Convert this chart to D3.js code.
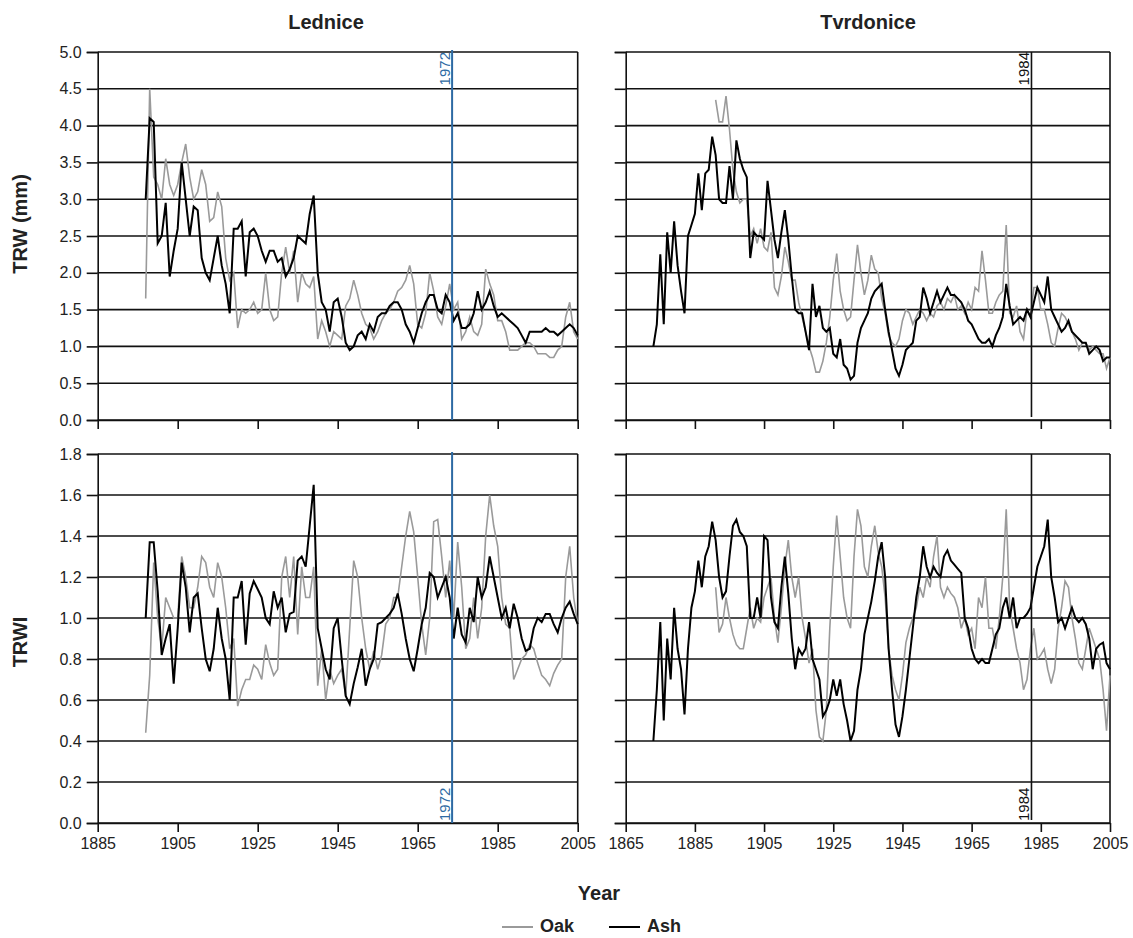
<!DOCTYPE html>
<html>
<head>
<meta charset="utf-8">
<script src="https://cdn.jsdelivr.net/npm/d3@7"></script>
<style>
  body { margin: 0; background: #fff; }
  svg text { font-family: "Liberation Sans", Arial, sans-serif; fill: #222; }
</style>
</head>
<body>
<svg id="chart" width="1133" height="938"></svg>
<script>
// ---- data (one value per year) ----
const sites = ['Lednice', 'Tvrdonice'];
const rowLabels = ['TRW (mm)', 'TRWI'];
const seriesNames = ['Oak', 'Ash'];

const ledStart = 1897;
const ledOakTRW = [
  1.65, 4.5, 3.3, 3.2, 3.0, 3.55, 3.2, 3.05, 3.2, 3.5,
  3.75, 3.3, 3.0, 3.1, 3.4, 3.2, 2.7, 2.75, 3.1, 2.9,
  2.2, 1.9, 2.0, 1.25, 1.5, 1.45, 1.5, 1.6, 1.45, 1.5,
  2.0, 1.5, 1.35, 1.4, 2.0, 2.35, 2.0, 2.3, 1.6, 2.0,
  1.85, 1.8, 1.95, 1.1, 1.35, 1.2, 1.0, 1.2, 1.15, 1.1,
  1.55, 1.65, 1.9, 1.7, 1.45, 1.3, 1.25, 1.1, 1.2, 1.35,
  1.45, 1.5, 1.6, 1.75, 1.8, 1.9, 2.1, 1.85, 1.3, 1.25,
  1.45, 2.0, 1.75, 1.4, 1.3, 1.55, 1.85, 1.5, 1.6, 1.1,
  1.2, 1.4, 1.2, 1.15, 1.3, 2.05, 1.85, 1.7, 1.35, 1.35,
  1.2, 0.95, 0.95, 0.95, 1.0, 1.05, 1.05, 1.0, 0.9, 0.9,
  0.9, 0.85, 0.85, 0.95, 1.0, 1.4, 1.6, 1.2, 1.1
];
const ledAshTRW = [
  3.0, 4.1, 4.05, 2.4, 2.5, 2.95, 1.95, 2.3, 2.6, 3.5,
  3.0, 2.5, 2.9, 2.85, 2.2, 2.0, 1.9, 2.2, 2.5, 2.1,
  1.85, 1.45, 2.6, 2.6, 2.7, 1.95, 2.55, 2.6, 2.5, 2.3,
  2.15, 2.3, 2.3, 2.15, 2.2, 1.95, 2.05, 2.2, 2.5, 2.45,
  2.4, 2.8, 3.05, 2.0, 1.6, 1.5, 1.2, 1.6, 1.65, 1.4,
  1.05, 0.95, 1.0, 1.15, 1.2, 1.1, 1.3, 1.2, 1.4, 1.45,
  1.45, 1.55, 1.6, 1.6, 1.5, 1.3, 1.2, 1.05, 1.25, 1.45,
  1.6, 1.7, 1.7, 1.5, 1.45, 1.7, 1.6, 1.35, 1.45, 1.25,
  1.25, 1.3, 1.45, 1.75, 1.5, 1.6, 1.75, 1.55, 1.4, 1.45,
  1.4, 1.35, 1.3, 1.25, 1.15, 1.05, 1.2, 1.2, 1.2, 1.2,
  1.25, 1.2, 1.2, 1.15, 1.2, 1.25, 1.3, 1.25, 1.15
];
const ledOakTRWI = [
  0.44, 0.72, 1.27, 1.0, 0.85, 1.1, 1.05, 1.0, 1.0, 1.3,
  1.2, 1.05, 1.05, 1.15, 1.3, 1.27, 1.15, 1.1, 1.27, 1.2,
  1.05, 0.85, 0.9, 0.57, 0.65, 0.7, 0.7, 0.77, 0.75, 0.7,
  0.87, 0.78, 0.72, 0.75, 1.2, 1.3, 1.1, 1.3, 0.92, 1.25,
  1.1, 1.1, 1.25, 0.67, 0.85, 0.6, 0.75, 0.68, 0.72, 0.75,
  0.62, 0.95, 1.28, 1.2, 1.0, 0.85, 0.75, 0.84, 0.75, 0.82,
  0.97, 1.0, 1.1, 1.1, 1.25, 1.4, 1.52, 1.42, 1.2, 0.97,
  0.82, 1.0, 1.47, 1.48, 1.3, 1.1, 1.28, 1.0, 1.37, 1.15,
  0.85, 0.9, 1.1, 0.9, 1.05, 1.4, 1.6, 1.45, 1.35, 1.1,
  0.97, 0.95, 0.7, 0.75, 0.8, 0.82, 0.87, 0.85, 0.78, 0.72,
  0.7, 0.67, 0.73, 0.77, 0.8, 1.2, 1.35, 1.1, 0.97
];
const ledAshTRWI = [
  1.0, 1.37, 1.37, 1.13, 0.82, 0.9, 0.97, 0.68, 0.95, 1.27,
  1.15, 0.93, 1.1, 1.12, 0.95, 0.8, 0.74, 0.85, 1.05, 0.9,
  0.8, 0.6, 1.1, 1.1, 1.18, 0.87, 1.12, 1.18, 1.14, 1.1,
  1.0, 0.97, 1.13, 1.05, 1.1, 0.93, 1.02, 1.03, 1.28, 1.3,
  1.25, 1.45, 1.65, 0.95, 0.85, 0.75, 0.7, 0.95, 1.0, 0.8,
  0.62, 0.58, 0.68, 0.76, 0.85, 0.67, 0.75, 0.8, 0.97, 0.98,
  1.0, 1.02, 1.05, 1.12, 1.02, 0.9, 0.8, 0.74, 0.85, 0.97,
  1.05, 1.22, 1.2, 1.1, 1.15, 1.2, 1.1, 0.9, 1.05, 0.92,
  0.88, 1.05, 0.98, 1.2, 1.1, 1.15, 1.3, 1.2, 1.1, 1.0,
  1.05, 0.95, 1.07, 1.0, 0.9, 0.84, 0.85, 0.95, 1.0, 0.98,
  1.02, 1.02, 0.97, 0.93, 1.0, 1.05, 1.08, 1.02, 0.97
];

const tvrOakStart = 1891;
const tvrAshStart = 1873;
const tvrOakTRW = [
  4.35, 4.05, 4.05, 4.4, 3.95, 3.4, 3.1, 2.95, 3.0, 3.0,
  2.5, 2.6, 2.4, 2.6, 2.35, 2.3, 2.55, 1.8, 1.7, 1.95,
  2.35, 2.15, 1.9, 1.9, 1.6, 1.4, 1.2, 1.0, 0.85, 0.65,
  0.65, 0.8, 1.05, 1.4, 1.9, 2.26, 1.75, 1.5, 1.35, 1.4,
  1.9, 2.38, 2.0, 1.7, 1.9, 2.24, 2.05, 2.0, 1.65, 1.45,
  1.15, 1.05, 1.0, 1.1, 1.35, 1.5, 1.45, 1.3, 1.4, 1.5,
  1.45, 1.35, 1.45, 1.4, 1.55, 1.6, 1.5, 1.65, 1.6, 1.7,
  1.5, 1.55, 1.45, 1.6, 1.5, 1.8, 1.75, 2.3, 1.9, 1.45,
  1.45, 1.6, 1.7, 1.75, 2.65, 1.45, 1.4, 1.55, 1.2, 1.1,
  1.5, 1.4, 1.8, 1.8, 1.5, 1.5, 1.3, 1.05, 1.0, 1.25,
  1.45, 1.4, 1.3, 1.2, 1.1, 0.95, 1.05, 1.05, 0.95, 1.0,
  0.95, 0.9, 0.9, 0.7, 0.85
];
const tvrAshTRW = [
  1.0, 1.3, 2.25, 1.3, 2.55, 2.0, 2.7, 2.1, 1.75, 1.45,
  2.5, 2.65, 2.8, 3.35, 2.85, 3.35, 3.4, 3.85, 3.6, 3.0,
  2.95, 2.95, 3.45, 3.0, 3.8, 3.55, 3.4, 3.3, 2.2, 2.55,
  2.5, 2.5, 2.45, 3.25, 2.85, 2.45, 2.2, 2.55, 2.85, 2.45,
  1.95, 1.5, 1.45, 1.45, 1.2, 0.95, 1.85, 1.4, 1.55, 1.25,
  1.2, 1.25, 0.9, 0.85, 1.1, 0.75, 0.7, 0.55, 0.6, 1.05,
  1.25, 1.35, 1.45, 1.65, 1.75, 1.8, 1.85, 1.5, 1.2, 0.95,
  0.7, 0.6, 0.75, 0.95, 1.0, 1.05, 1.35, 1.4, 1.8, 1.65,
  1.45, 1.6, 1.75, 1.6, 1.7, 1.8, 1.7, 1.7, 1.65, 1.6,
  1.5, 1.35, 1.3, 1.2, 1.1, 1.05, 1.05, 1.1, 1.0, 1.15,
  1.25, 1.4, 1.85, 1.55, 1.3, 1.35, 1.4, 1.35, 1.5, 1.4,
  1.6, 1.8, 1.7, 1.6, 1.95, 1.5, 1.4, 1.3, 1.2, 1.25,
  1.35, 1.2, 1.15, 1.1, 1.05, 1.05, 0.9, 0.95, 1.0, 0.95,
  0.8, 0.85, 0.85
];
const tvrOakTRWI = [
  1.15, 0.93, 0.97, 1.1, 1.0, 0.92, 0.87, 0.85, 0.85, 0.95,
  1.05, 0.95, 1.0, 0.98, 1.1, 1.15, 1.2, 1.0, 0.88, 1.05,
  1.25, 1.38, 1.2, 1.1, 1.2, 1.0, 0.9, 0.78, 0.85, 0.55,
  0.42, 0.4, 0.55, 0.95, 1.25, 1.5, 1.3, 1.1, 1.0, 0.95,
  1.3, 1.53, 1.45, 1.25, 1.2, 1.35, 1.45, 1.32, 1.25, 1.1,
  0.85, 0.72, 0.65, 0.6, 0.72, 0.88, 0.95, 1.0, 1.05, 1.15,
  1.1, 1.2, 1.15, 1.3, 1.4, 1.15, 1.1, 1.15, 1.12, 1.1,
  1.05, 0.95, 1.0, 0.92, 0.95, 0.85, 1.1, 1.05, 1.2, 0.95,
  0.95, 0.85, 1.0, 1.2, 1.53, 1.05, 0.95, 0.85, 0.78, 0.65,
  0.7, 0.85, 0.95, 0.8, 0.82, 0.85, 0.75, 0.68, 0.75, 0.95,
  1.05, 1.18, 1.15, 1.0, 0.9, 0.78, 0.75, 0.85, 0.95, 0.9,
  0.85, 0.8, 0.65, 0.45, 0.72
];
const tvrAshTRWI = [
  0.4, 0.65, 0.98, 0.5, 0.9, 0.7, 1.05, 0.85, 0.75, 0.53,
  0.85, 1.05, 1.13, 1.28, 1.15, 1.3, 1.35, 1.47, 1.38, 1.2,
  1.1, 1.13, 1.3, 1.45, 1.48, 1.42, 1.4, 1.35, 1.0, 1.0,
  1.1, 1.0, 1.4, 1.38, 1.1, 0.98, 0.95, 1.15, 1.3, 1.12,
  0.9, 0.75, 0.85, 0.82, 0.85, 0.98, 0.8, 0.75, 0.7, 0.52,
  0.55, 0.6, 0.7, 0.62, 0.7, 0.58, 0.5, 0.4, 0.45, 0.65,
  0.75, 0.92, 1.0, 1.08, 1.18, 1.3, 1.37, 1.2, 0.85, 0.65,
  0.48, 0.42, 0.52, 0.65, 0.8, 0.95, 1.1, 1.2, 1.35, 1.25,
  1.2, 1.25, 1.22, 1.2, 1.3, 1.33, 1.28, 1.26, 1.24, 1.22,
  1.0, 0.95, 0.85, 0.8, 0.78, 0.8, 0.78, 0.78, 0.85, 0.92,
  0.95, 1.05, 1.1, 1.0, 1.1, 0.95, 1.0, 1.0, 1.02, 1.05,
  1.15, 1.25, 1.3, 1.35, 1.48, 1.2, 1.1, 0.98, 1.0, 0.95,
  1.0, 1.05, 1.0, 0.98, 1.0, 0.97, 0.9, 0.75, 0.85, 0.87,
  0.88, 0.78, 0.75
];

// axis ticks
const xTicksLed = [1885, 1905, 1925, 1945, 1965, 1985, 2005];
const xTicksTvr = [1865, 1885, 1905, 1925, 1945, 1965, 1985, 2005];
const yTicksTRW = [0, 0.5, 1, 1.5, 2, 2.5, 3, 3.5, 4, 4.5, 5];
const yTicksTRWI = [0, 0.2, 0.4, 0.6, 0.8, 1, 1.2, 1.4, 1.6, 1.8];

// reference years marked on each site (label, position on the axis as drawn)
const markerLabels = ['1972', '1984'];
const markerYears = [1973.6, 1982.3];

// ---- layout ----
const colors = { Oak: '#9a9a9a', Ash: '#000000', grid: '#111', marker: ['#2d6aa3', '#111'] };
const cols = [
  { x0: 97.7, x1: 577.7, domain: [1885, 2005], ticks: xTicksLed, showY: true, titleX: 326 },
  { x0: 625.7, x1: 1110, domain: [1865, 2005], ticks: xTicksTvr, showY: false, titleX: 868 }
];
const rows = [
  { y0: 52, y1: 420, domain: [0, 5], ticks: yTicksTRW, showX: false },
  { y0: 454, y1: 823, domain: [0, 1.8], ticks: yTicksTRWI, showX: true }
];

const toPoints = (start, vals) => vals.map((v, i) => ({ year: start + i, value: v }));

const panelData = [
  [ // Lednice
    { Oak: toPoints(ledStart, ledOakTRW), Ash: toPoints(ledStart, ledAshTRW) },
    { Oak: toPoints(ledStart, ledOakTRWI), Ash: toPoints(ledStart, ledAshTRWI) }
  ],
  [ // Tvrdonice
    { Oak: toPoints(tvrOakStart, tvrOakTRW), Ash: toPoints(tvrAshStart, tvrAshTRW) },
    { Oak: toPoints(tvrOakStart, tvrOakTRWI), Ash: toPoints(tvrAshStart, tvrAshTRWI) }
  ]
];

const svg = d3.select('#chart');

cols.forEach((col, ci) => {
  const x = d3.scaleLinear().domain(col.domain).range([col.x0, col.x1]);

  // site title
  svg.append('text')
    .attr('x', col.titleX)
    .attr('y', 29)
    .attr('text-anchor', 'middle')
    .attr('font-size', '20px')
    .attr('font-weight', 'bold')
    .text(sites[ci]);

  rows.forEach((row, ri) => {
    const y = d3.scaleLinear().domain(row.domain).range([row.y1, row.y0]);
    const g = svg.append('g').attr('class', `panel-${ci}-${ri}`);

    // horizontal gridlines (full width)
    g.selectAll('.grid')
      .data(row.ticks)
      .enter()
      .append('line')
      .attr('x1', col.x0)
      .attr('x2', col.x1)
      .attr('y1', d => y(d))
      .attr('y2', d => y(d))
      .attr('stroke', colors.grid)
      .attr('stroke-width', 1.6);

    // right border
    g.append('line')
      .attr('x1', col.x1).attr('x2', col.x1)
      .attr('y1', row.y0).attr('y2', row.y1)
      .attr('stroke', colors.grid)
      .attr('stroke-width', 1.6);

    // y axis
    const yAxis = d3.axisLeft(y)
      .tickValues(row.ticks)
      .tickSize(11)
      .tickPadding(5)
      .tickFormat(col.showY ? d3.format('.1f') : '');
    const ya = g.append('g')
      .attr('transform', `translate(${col.x0},0)`)
      .call(yAxis);
    ya.select('.domain').attr('stroke', colors.grid).attr('stroke-width', 1.6);
    ya.selectAll('.tick line').attr('stroke', colors.grid).attr('stroke-width', 1.6);
    ya.selectAll('.tick text')
      .attr('font-size', '16px')
      .attr('font-family', '"Liberation Sans", Arial, sans-serif')
      .attr('fill', '#222');

    // x axis
    const xAxis = d3.axisBottom(x)
      .tickValues(col.ticks)
      .tickSize(9)
      .tickPadding(6)
      .tickSizeOuter(0)
      .tickFormat(row.showX ? d3.format('d') : '');
    const xa = g.append('g')
      .attr('transform', `translate(0,${row.y1})`)
      .call(xAxis);
    xa.select('.domain').attr('stroke', colors.grid).attr('stroke-width', 1.6);
    xa.selectAll('.tick line').attr('stroke', colors.grid).attr('stroke-width', 1.6);
    xa.selectAll('.tick text')
      .attr('font-size', '16px')
      .attr('font-family', '"Liberation Sans", Arial, sans-serif')
      .attr('fill', '#222');

    // series: oak first, ash on top
    const line = d3.line()
      .x(d => x(d.year))
      .y(d => y(d.value));
    seriesNames.forEach(name => {
      g.append('path')
        .datum(panelData[ci][ri][name])
        .attr('fill', 'none')
        .attr('stroke', colors[name])
        .attr('stroke-width', name === 'Ash' ? 2 : 1.6)
        .attr('stroke-linejoin', 'miter')
        .attr('d', line);
    });

    // reference year marker
    const mx = x(markerYears[ci]);
    const mColor = colors.marker[ci];
    g.append('line')
      .attr('x1', mx).attr('x2', mx)
      .attr('y1', row.y0 - (ci === 0 ? 2 : 0))
      .attr('y2', row.y1 - (ci === 0 ? 0 : 3))
      .attr('stroke', mColor)
      .attr('stroke-width', ci === 0 ? 2 : 1.6);
    g.append('text')
      .attr('transform', `translate(${mx - 2},${ri === 0 ? row.y0 : row.y1 - 2}) rotate(-90)`)
      .attr('text-anchor', ri === 0 ? 'end' : 'start')
      .attr('font-size', '15px')
      .style('fill', mColor)
      .text(markerLabels[ci]);
  });
});

// row axis titles
rows.forEach((row, ri) => {
  svg.append('text')
    .attr('transform', `translate(27,${ri === 0 ? 224 : 642}) rotate(-90)`)
    .attr('text-anchor', 'middle')
    .attr('font-size', '20px')
    .attr('font-weight', 'bold')
    .text(rowLabels[ri]);
});

// x title
svg.append('text')
  .attr('x', 599)
  .attr('y', 900)
  .attr('text-anchor', 'middle')
  .attr('font-size', '20px')
  .attr('font-weight', 'bold')
  .text('Year');

// legend
const legend = svg.append('g').attr('class', 'legend');
const legendX = [502, 609];
seriesNames.forEach((name, i) => {
  legend.append('line')
    .attr('x1', legendX[i]).attr('x2', legendX[i] + 31)
    .attr('y1', 927).attr('y2', 927)
    .attr('stroke', colors[name])
    .attr('stroke-width', 2);
  legend.append('text')
    .attr('x', legendX[i] + 38)
    .attr('y', 932)
    .attr('font-size', '18px')
    .attr('font-weight', 'bold')
    .text(name);
});
</script>
</body>
</html>
